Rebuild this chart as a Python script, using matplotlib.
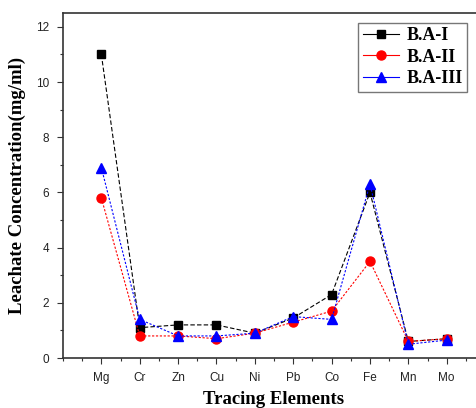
import matplotlib
matplotlib.use("Agg")
import matplotlib.pyplot as plt
from matplotlib.ticker import MultipleLocator

elements = ["Mg", "Cr", "Zn", "Cu", "Ni", "Pb", "Co", "Fe", "Mn", "Mo"]
ba1 = [11.0, 1.1, 1.2, 1.2, 0.9, 1.45, 2.3, 6.0, 0.6, 0.7]
ba2 = [5.8, 0.8, 0.8, 0.7, 0.9, 1.3, 1.7, 3.5, 0.6, 0.7]
ba3 = [6.9, 1.4, 0.8, 0.8, 0.9, 1.5, 1.4, 6.3, 0.5, 0.65]
series_names = ["B.A-I", "B.A-II", "B.A-III"]

fig = plt.figure(figsize=(4.77, 4.08), dpi=100)
ax = fig.add_axes([0.132, 0.1225, 0.885, 0.8456])

x = list(range(1, len(elements) + 1))
ax.plot(x, ba1, color="black", lw=0.8, ls=(0, (4, 2)), marker="s", ms=6,
        mfc="black", mec="black", label=series_names[0])
ax.plot(x, ba2, color="red", lw=0.8, ls=(0, (2, 1.5)), marker="o", ms=6.5,
        mfc="red", mec="red", label=series_names[1])
ax.plot(x, ba3, color="blue", lw=0.8, ls=(0, (2, 1.5)), marker="^", ms=7.5,
        mfc="blue", mec="blue", label=series_names[2])

ax.set_xlim(0, 11)
ax.set_ylim(0, 12.5)
ax.set_xticks(x)
ax.set_xticklabels(elements, family="Liberation Sans", fontsize=8.5)
ax.xaxis.set_minor_locator(MultipleLocator(0.5))
ax.yaxis.set_major_locator(MultipleLocator(2))
ax.yaxis.set_minor_locator(MultipleLocator(1))
for lab in ax.get_yticklabels():
    lab.set_family("Liberation Sans")
    lab.set_fontsize(8.5)
ax.tick_params(which="major", direction="out", length=4, width=0.8, colors="#333333")
ax.tick_params(which="minor", direction="out", length=2.5, width=0.8, colors="#333333")
ax.tick_params(labelcolor="#222222", pad=6)
for s in ax.spines.values():
    s.set_linewidth(1.2)
    s.set_color("#333333")

ax.set_ylabel("Leachate Concentration(mg/ml)", family="Liberation Serif",
              fontweight="bold", fontsize=13.5, labelpad=7)
ax.set_xlabel("Tracing Elements", family="Liberation Serif",
              fontweight="bold", fontsize=13.5, labelpad=5)

leg = ax.legend(loc="upper left", bbox_to_anchor=(0.7, 0.972),
                prop={"family": "Liberation Serif", "weight": "bold", "size": 13},
                frameon=True, fancybox=False, edgecolor="#555555",
                handlelength=2.0, borderpad=0.25, labelspacing=0.25,
                handletextpad=0.4, borderaxespad=0)
leg.get_frame().set_linewidth(1.0)
for h in leg.get_lines():
    h.set_linestyle("-")

fig.savefig("out.png", dpi=100)
